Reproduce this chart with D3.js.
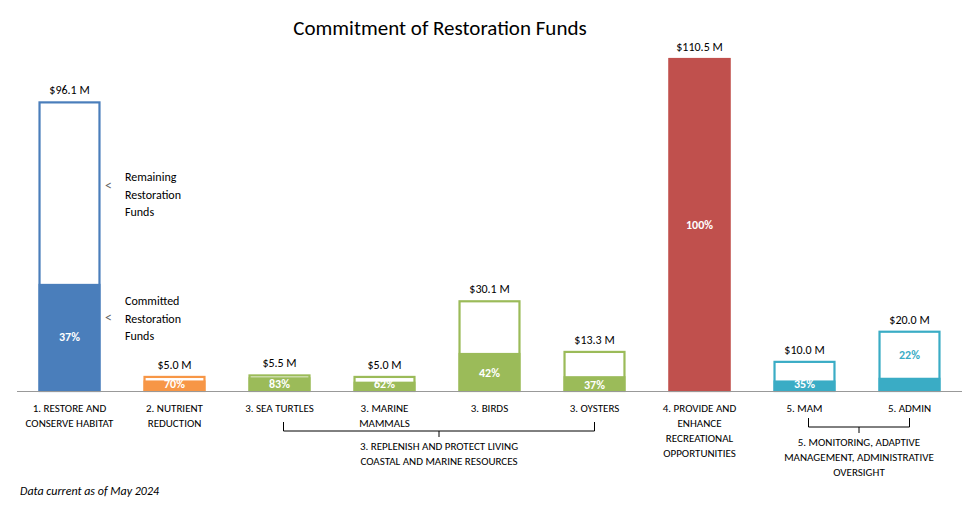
<!DOCTYPE html><html><head><meta charset="utf-8"><script src="https://cdn.jsdelivr.net/npm/d3@7"></script>
<style>body{margin:0;background:#fff}text{font-family:Calibri,Carlito,"Open Sans",sans-serif}</style></head><body><svg id="c" width="972" height="505"></svg><script>
const categories=["1. RESTORE AND|CONSERVE HABITAT","2. NUTRIENT|REDUCTION","3. SEA TURTLES","3. MARINE|MAMMALS","3. BIRDS","3. OYSTERS","4. PROVIDE AND|ENHANCE|RECREATIONAL|OPPORTUNITIES","5. MAM","5. ADMIN"];
const totals=[96.1,5.0,5.5,5.0,30.1,13.3,110.5,10.0,20.0];
const committedPct=[37,70,83,62,42,37,100,35,22];
const colors=["#4a7ebb","#f79646","#9bbb59","#9bbb59","#9bbb59","#9bbb59","#c0504d","#3aacc5","#3aacc5"];
const svg=d3.select("#c");
const x=d3.scaleBand().domain(categories).range([17,962]).paddingInner(0.41).paddingOuter(0.205);
const y=d3.scaleLinear().domain([0,110.5]).range([391,58]);
const g=svg.append("g");
categories.forEach((c,i)=>{
  const x0=x(c),w=x.bandwidth(),col=colors[i],t=totals[i],cm=t*committedPct[i]/100;
  g.append("rect").attr("x",x0+1).attr("y",y(t)+1).attr("width",w-2).attr("height",y(0)-y(t)-1).attr("fill","#fff").attr("stroke",col).attr("stroke-width",2.2);
  g.append("rect").attr("x",x0).attr("y",y(cm)).attr("width",w).attr("height",y(0)-y(cm)).attr("fill",col);
  g.append("text").attr("x",x0+w/2).attr("y",y(t)-7).attr("text-anchor","middle").attr("font-size",12).text("$"+t.toFixed(1)+" M");
  const inside=(y(0)-y(cm))>14;
  const ly=i==6?y(t/2)+4:(i==0?y(cm/2)+4:(inside?y(cm/2)+5:y(0)-3));
  g.append("text").attr("x",x0+w/2).attr("y",i==8?y(t*0.5)-2:ly).attr("text-anchor","middle").attr("font-size",12).attr("font-weight","bold").attr("fill",i==8?col:"#fff").text(committedPct[i]+"%");
  c.split("|").forEach((l,k)=>g.append("text").attr("x",x0+w/2).attr("y",412+k*15).attr("text-anchor","middle").attr("font-size",11).text(l));
});
svg.append("line").attr("x1",17).attr("x2",962).attr("y1",391.5).attr("y2",391.5).attr("stroke","#999").attr("stroke-width",1);
svg.append("text").attr("x",440).attr("y",35).attr("text-anchor","middle").attr("font-size",21).text("Commitment of Restoration Funds");
function bracket(a,b,yy,lines,ty){
  const xa=x(categories[a])+x.bandwidth()/2+4,xb=x(categories[b])+x.bandwidth()/2,m=(xa+xb)/2;
  svg.append("path").attr("d",`M${xa},${yy}V${yy+9}H${xb}V${yy}M${m},${yy+9}V${yy+15}`).attr("fill","none").attr("stroke","#000");
  lines.forEach((l,k)=>svg.append("text").attr("x",m).attr("y",ty+k*15).attr("text-anchor","middle").attr("font-size",11).text(l));
}
bracket(2,5,422,["3. REPLENISH AND PROTECT LIVING","COASTAL AND MARINE RESOURCES"],450);
bracket(7,8,418,["5. MONITORING, ADAPTIVE","MANAGEMENT, ADMINISTRATIVE","OVERSIGHT"],446);
[["Remaining","Restoration","Funds",181,190],["Committed","Restoration","Funds",305,322]].forEach(d=>{
  [0,1,2].forEach(k=>svg.append("text").attr("x",125).attr("y",d[3]+k*17.5).attr("font-size",12).text(d[k]));
  svg.append("text").attr("x",105).attr("y",d[4]).attr("font-size",14).attr("fill","#666").text("<");
});
svg.append("text").attr("x",20).attr("y",495).attr("font-size",12).attr("font-style","italic").text("Data current as of May 2024");
</script></body></html>
